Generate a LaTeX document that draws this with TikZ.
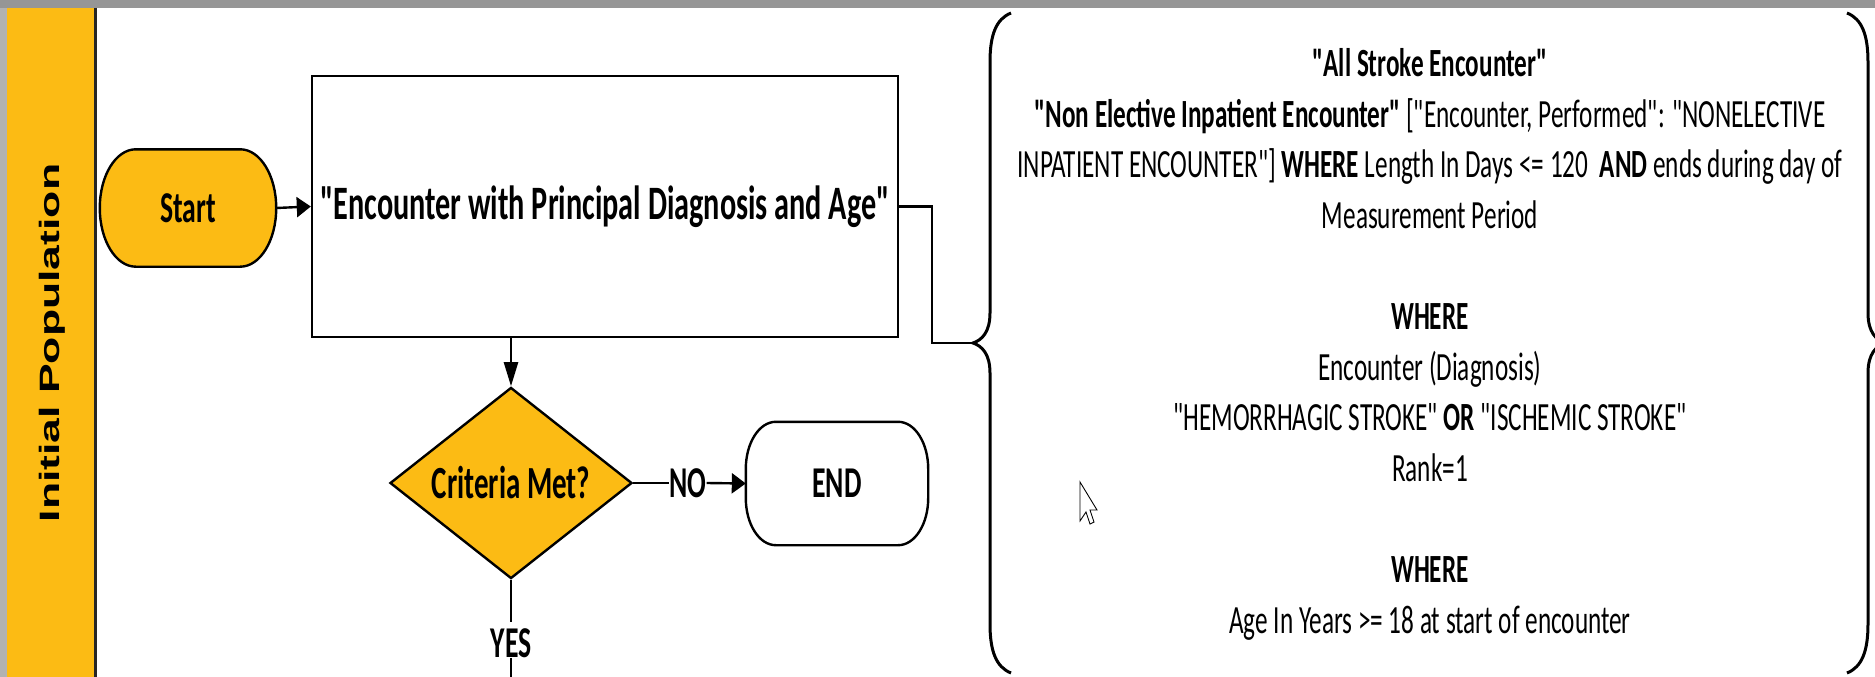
\documentclass[tikz,border=0pt]{standalone}
\usepackage{fontspec}
\setmainfont{Carlito}[FakeStretch=0.63, Ligatures=TeXOff]
\newfontfamily\lanefont{Liberation Sans}[FakeStretch=1.59]
\usetikzlibrary{shapes.geometric,arrows.meta,calc}
\pgfdeclarelayer{background}
\pgfsetlayers{background,main}
\definecolor{gold}{RGB}{252,187,20}
\definecolor{topgray}{RGB}{150,150,150}
\definecolor{edgegray}{RGB}{178,178,178}
\newcommand\pillshape[4]{%
  \pgfmathsetmacro\pkx{0.5523*#2}%
  \pgfmathsetmacro\pky{0.5523*#3}%
  \begin{pgfonlayer}{background}
  \filldraw[fill=#4, draw=black, line width=2.4pt]
   ($(#1.north west)+(#2,0)$) -- ($(#1.north east)+(-#2,0)$)
   .. controls +(\pkx,0) and ($(#1.north east)+(0,#3-\pky)$) .. ($(#1.north east)+(0,#3)$)
   -- ($(#1.south east)+(0,-#3)$)
   .. controls +(0,\pky) and ($(#1.south east)+(-#2+\pkx,0)$) .. ($(#1.south east)+(-#2,0)$)
   -- ($(#1.south west)+(#2,0)$)
   .. controls +(-\pkx,0) and ($(#1.south west)+(0,-#3+\pky)$) .. ($(#1.south west)+(0,-#3)$)
   -- ($(#1.north west)+(0,#3)$)
   .. controls +(0,-\pky) and ($(#1.north west)+(#2-\pkx,0)$) .. cycle;
  \end{pgfonlayer}%
}
\tikzset{
  conn/.style={line width=2.4pt, draw=black},
  harr/.style={conn, -{Triangle[length=14pt,width=20pt]}},
  varr/.style={conn, -{Triangle[length=24pt,width=14pt]}},
  pilltext/.style={inner sep=0pt, font=\bfseries\fontsize{44}{48}\selectfont},
  procbox/.style={draw=black, line width=2.4pt, fill=white, inner sep=0pt,
    minimum width=586pt, minimum height=261pt, font=\bfseries\fontsize{48}{50}\selectfont},
  decision/.style={diamond, draw=black, line width=2.4pt, fill=gold, inner sep=0pt,
    minimum width=242pt, minimum height=177pt, font=\bfseries\fontsize{46}{48}\selectfont},
  lbl/.style={inner sep=0pt, font=\bfseries\fontsize{44}{48}\selectfont},
  bracestyle/.style={line width=3pt, draw=black},
  logic/.style={inner sep=0pt, align=center, font=\fontsize{40}{50.6}\selectfont}
}
\begin{document}
\begin{tikzpicture}[x=1pt, y=-1pt]
\useasboundingbox (0,0) rectangle (1875,677);
\clip (0,0) rectangle (1875,677);
% frame and swimlane
\begin{pgfonlayer}{background}
\fill[white] (0,0) rectangle (1875,677);
\end{pgfonlayer}
\fill[topgray] (0,0) rectangle (1875,8);
\fill[edgegray] (0,8) rectangle (7,677);
\fill[gold] (7,8) rectangle (94,677);
\draw[line width=3pt, black!85] (95,8) -- (95,677);
\node[rotate=90, anchor=base, inner sep=0pt, font=\lanefont\bfseries\fontsize{28}{30}\selectfont] (lane) at (59,343) {Initial Population};
% nodes
\node[pilltext, minimum width=176pt, minimum height=117pt] (start) at (188,208) {Start};
\pillshape{start}{36}{58.5}{gold}
\node[procbox] (enc) at (605,206.5) {"Encounter with Principal Diagnosis and Age"};
\node[decision] (crit) at (511,483) {Criteria Met?};
\node[lbl] (no) at (688,483) {NO};
\node[pilltext, minimum width=182pt, minimum height=123pt] (end) at (837,483.5) {END};
\pillshape{end}{30}{47}{white}
\node[lbl] (yes) at (511,643) {YES};
\coordinate (yesend) at (511,690);
% braces
\coordinate (btip) at (973,343);
\draw[bracestyle] (1011,13) .. controls (996,19) and (990,35) .. (990,62)
  -- (990,313) .. controls (990,332) and (982,340) .. (btip)
  .. controls (982,346) and (990,354) .. (990,373)
  -- (990,624) .. controls (990,651) and (996,667) .. (1011,673);
\coordinate (rtip) at (1885,343);
\draw[bracestyle] (1847,13) .. controls (1862,19) and (1868,35) .. (1868,62)
  -- (1868,313) .. controls (1868,332) and (1876,340) .. (rtip)
  .. controls (1876,346) and (1868,354) .. (1868,373)
  -- (1868,624) .. controls (1868,651) and (1862,667) .. (1847,673);
% logic text
\node[logic, anchor=base] (logictext) at (1430,633) {%
\textbf{"All Stroke Encounter"}\\
\textbf{"Non Elective Inpatient Encounter"} ["Encounter, Performed": "NONELECTIVE\\
INPATIENT ENCOUNTER"] \textbf{WHERE} Length In Days <= 120\ \ \textbf{AND} ends during day of\\
Measurement Period\\[50.6pt]
\textbf{WHERE}\\
Encounter (Diagnosis)\\
"HEMORRHAGIC STROKE" \textbf{OR} "ISCHEMIC STROKE"\\
Rank=1\\[50.6pt]
\textbf{WHERE}\\
Age In Years >= 18 at start of encounter};
% connectors
\draw[harr] (start.east) -- (enc.west);
\draw[conn] (enc.east) -- ++(33,0) |- (btip);
\draw[varr] (enc.south -| crit.north) -- (crit.north);
\draw[conn] (crit.east) -- (no.west);
\draw[harr] (no.east) -- (end.west);
\draw[conn, shorten >=6pt] (crit.south) -- (yes.north);
\draw[conn] (yes.south) -- (yesend);
% mouse pointer
\filldraw[fill=white, draw=black, line width=0.9pt, line join=miter]
  (1080,482) -- (1080,521) -- (1086,512) -- (1090,524) -- (1094,522) -- (1090,510) -- (1097,510) -- cycle;
\end{tikzpicture}
\end{document}
